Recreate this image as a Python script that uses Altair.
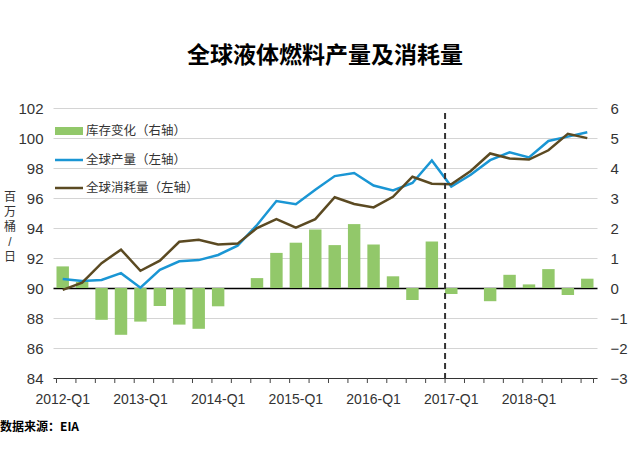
import altair as alt
import pandas as pd

quarters = [f"{y}-Q{q}" for y in range(2012, 2019) for q in range(1, 5)]
label_quarters = [q for q in quarters if q.endswith("Q1")]

stock = [0.72, 0.2, -1.06, -1.56, -1.12, -0.6, -1.22, -1.36, -0.61, 0.0,
         0.33, 1.17, 1.51, 1.95, 1.43, 2.13, 1.45, 0.39, -0.4, 1.55,
         -0.2, 0.0, -0.44, 0.44, 0.12, 0.63, -0.23, 0.31]

production = [90.6, 90.47, 90.54, 90.99, 90.02, 91.21, 91.78, 91.86, 92.2, 92.82,
              94.2, 95.8, 95.58, 96.55, 97.46, 97.67, 96.83, 96.5, 97.0, 98.5,
              96.76, 97.55, 98.52, 99.04, 98.7, 99.8, 100.09, 100.38]

consumption = [89.87, 90.36, 91.66, 92.56, 91.15, 91.82, 93.08, 93.22, 92.9, 92.96,
               94.0, 94.59, 94.03, 94.59, 96.05, 95.6, 95.37, 96.08, 97.42, 96.95,
               96.92, 97.8, 98.97, 98.63, 98.56, 99.18, 100.28, 99.99]

legend_labels = ["库存变化（右轴）", "全球产量（左轴）", "全球消耗量（左轴）"]
y_title = "百\n万\n桶\n/\n日"
source_text = "数据来源：EIA"
title_text = "全球液体燃料产量及消耗量"
divider_quarter = "2017-Q1"

GREEN = "#92c86a"
BLUE = "#1a96d4"
BROWN = "#5b4a22"
FONT = "Liberation Sans, Noto Sans CJK SC"
CJK = "Noto Sans CJK SC"

df = pd.DataFrame({"q": quarters, "stock": stock, "prod": production, "cons": consumption})
one = pd.DataFrame({"a": [0]})

x_scale = alt.Scale(domain=quarters, paddingInner=0.36, paddingOuter=0.18)
x_axis = alt.Axis(
    title=None, labelAngle=0, values=label_quarters, ticks=False, labelOverlap=False,
    domainColor="#333", domainWidth=1,
    labelFontSize=14, labelColor="#333", labelPadding=14, labelFont=FONT,
)

left_scale = alt.Scale(domain=[84, 102], nice=False, zero=False)
left_axis = alt.Axis(
    values=list(range(84, 103, 2)), grid=True,
    gridColor={"condition": {"test": "datum.value === 90", "value": "#000000"}, "value": "#d4d4d4"},
    gridWidth={"condition": {"test": "datum.value === 90", "value": 1.3}, "value": 1},
    domain=False, ticks=False, labelPadding=10, labelFontSize=15, labelColor="#333",
    labelFont=FONT, title=None,
)


def xq(**kw):
    return alt.X("q:N", scale=x_scale, axis=x_axis, **kw)


bars = alt.Chart(df).mark_bar(color=GREEN).encode(
    x=xq(),
    y=alt.Y("stock:Q", scale=alt.Scale(domain=[-3, 6], nice=False, zero=False),
            axis=alt.Axis(orient="right", title=None, values=list(range(-3, 7)), grid=False,
                          domain=False, ticks=False, labelPadding=13, labelFontSize=15,
                          labelColor="#333", labelFont=FONT)),
)

prod_line = alt.Chart(df).mark_line(color=BLUE, strokeWidth=2.5).encode(
    x=xq(), y=alt.Y("prod:Q", scale=left_scale, axis=left_axis),
)
cons_line = alt.Chart(df).mark_line(color=BROWN, strokeWidth=2.5).encode(
    x=xq(), y=alt.Y("cons:Q", scale=left_scale, axis=left_axis),
)
dash_rule = alt.Chart(pd.DataFrame({"q": [divider_quarter]})).mark_rule(
    color="#333", strokeWidth=2, strokeDash=[6, 4]
).encode(x=xq(bandPosition=0), y=alt.value(5), y2=alt.value(270))

# band-boundary tick marks along the x axis
ticks_left = alt.Chart(df).mark_rule(color="#444", strokeWidth=1).encode(
    x=xq(bandPosition=0), y=alt.value(270), y2=alt.value(275)
)
ticks_end = alt.Chart(pd.DataFrame({"q": [quarters[-1]]})).mark_rule(
    color="#444", strokeWidth=1
).encode(x=xq(bandPosition=1), y=alt.value(270), y2=alt.value(275))

leg_rect = alt.Chart(one).mark_rect(color=GREEN).encode(
    x=alt.value(2), x2=alt.value(30), y=alt.value(19), y2=alt.value(27)
)
leg_blue = alt.Chart(one).mark_rule(color=BLUE, strokeWidth=2.5).encode(
    x=alt.value(2), x2=alt.value(30), y=alt.value(52)
)
leg_brown = alt.Chart(one).mark_rule(color=BROWN, strokeWidth=2.5).encode(
    x=alt.value(2), x2=alt.value(30), y=alt.value(80)
)
leg_texts = [
    alt.Chart(one).mark_text(text=t, align="left", baseline="middle", font=CJK,
                             fontSize=12.5, color="#333").encode(
        x=alt.value(33), y=alt.value(yy))
    for t, yy in zip(legend_labels, [23, 52, 80])
]
ytitle = alt.Chart(one).mark_text(text=y_title, lineBreak="\n", align="center", baseline="top",
                                  font=FONT, fontSize=12, lineHeight=15, color="#333").encode(
    x=alt.value(-43), y=alt.value(84))
src = alt.Chart(one).mark_text(text=source_text, align="left", baseline="middle", font=CJK,
                               fontSize=12, fontWeight="bold", color="black").encode(
    x=alt.value(-53), y=alt.value(319))

inner = alt.layer(prod_line, cons_line, dash_rule, ticks_left, ticks_end,
                  leg_rect, leg_blue, leg_brown, *leg_texts, ytitle, src)

chart = alt.layer(bars, inner).resolve_scale(y="independent").properties(
    width=544, height=270,
    autosize=alt.AutoSizeParams(type="none"),
    padding={"left": 53, "top": 108, "right": 33, "bottom": 71},
    title=alt.Title(title_text, fontSize=23, font=CJK, fontWeight="bold",
                    anchor="middle", offset=33, color="black"),
).configure_view(stroke=None)

chart.save("out.html", embed_options={"renderer": "svg", "actions": False})
